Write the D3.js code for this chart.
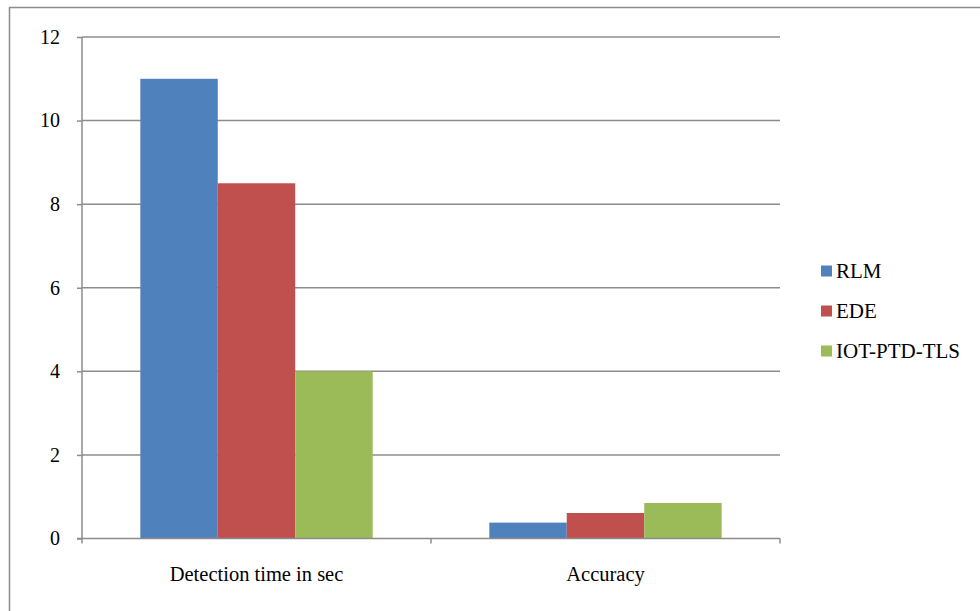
<!DOCTYPE html>
<html>
<head>
<meta charset="utf-8">
<script src="https://cdn.jsdelivr.net/npm/d3@7"></script>
<style>
  html, body { margin: 0; padding: 0; background: #fff; }
  svg { display: block; }
</style>
</head>
<body>
<script>
// Chart data
const categories = ["Detection time in sec", "Accuracy"];
const seriesNames = ["RLM", "EDE", "IOT-PTD-TLS"];
const seriesColors = ["#4f81bd", "#c0504d", "#9bbb59"];
const rlmValues = [11, 0.38];
const edeValues = [8.5, 0.61];
const iotValues = [4, 0.85];
const yTicks = [0, 2, 4, 6, 8, 10, 12];

const seriesValues = [rlmValues, edeValues, iotValues];
const FONT = '"Liberation Serif"';

const W = 980, H = 611;
const margin = { left: 82, right: 200, top: 37, bottom: 72.5 };
const plotW = W - margin.left - margin.right;   // 698
const plotH = H - margin.top - margin.bottom;

const svg = d3.select("body").append("svg")
  .attr("width", W).attr("height", H);

// Outer frame
svg.append("rect")
  .attr("x", 9.5).attr("y", 7.5)
  .attr("width", W).attr("height", H)
  .attr("fill", "none").attr("stroke", "#8c8c8c").attr("stroke-width", 1.5);

const g = svg.append("g").attr("transform", `translate(${margin.left},${margin.top})`);

const y = d3.scaleLinear().domain([0, 12]).range([plotH, 0]);
const x0 = d3.scaleBand().domain(categories).range([0, plotW]).paddingInner(0).paddingOuter(0);
const x1 = d3.scaleBand().domain(seriesNames).range([0, x0.bandwidth()]).paddingInner(0).paddingOuter(0.753);

// Horizontal gridlines
g.append("g").selectAll("line").data(yTicks.filter(d => d > 0)).join("line")
  .attr("x1", 0).attr("x2", plotW)
  .attr("y1", d => y(d)).attr("y2", d => y(d))
  .attr("stroke", "#8c8c8c").attr("stroke-width", 1.5);

// Bars
const groups = g.append("g").selectAll("g").data(categories).join("g")
  .attr("transform", d => `translate(${x0(d)},0)`);
groups.selectAll("rect")
  .data((c, ci) => seriesNames.map((s, si) => ({ s, si, v: seriesValues[si][ci] })))
  .join("rect")
  .attr("x", d => x1(d.s))
  .attr("width", x1.bandwidth())
  .attr("y", d => y(d.v))
  .attr("height", d => plotH - y(d.v))
  .attr("fill", d => seriesColors[d.si]);

// Y axis
const yAxis = g.append("g").call(
  d3.axisLeft(y).tickValues(yTicks).tickSize(5).tickPadding(17).tickFormat(d3.format("d"))
);
yAxis.attr("font-family", null);
yAxis.select(".domain").attr("stroke", "#8c8c8c").attr("stroke-width", 1.5)
  .attr("d", `M0,0V${plotH}`);
yAxis.selectAll(".tick line").attr("stroke", "#8c8c8c").attr("stroke-width", 1.5);
yAxis.selectAll(".tick text")
  .style("font-family", FONT).style("font-size", "20px").attr("fill", "#000");

// X axis
const xAxis = g.append("g").attr("transform", `translate(0,${plotH})`).call(
  d3.axisBottom(x0).tickSize(0).tickPadding(28)
);
xAxis.attr("font-family", null);
xAxis.select(".domain").attr("stroke", "#8c8c8c").attr("stroke-width", 1.5)
  .attr("d", `M-5,0H${plotW}`);
xAxis.selectAll(".tick text")
  .style("font-family", FONT).style("font-size", "20.5px").attr("fill", "#000");
// Category boundary tick marks
g.append("g").selectAll("line").data([0, plotW / 2, plotW]).join("line")
  .attr("x1", d => d).attr("x2", d => d)
  .attr("y1", plotH).attr("y2", plotH + 5)
  .attr("stroke", "#8c8c8c").attr("stroke-width", 1.5);

// Legend
const legend = svg.append("g").attr("transform", "translate(821,271)");
const items = legend.selectAll("g").data(seriesNames).join("g")
  .attr("transform", (d, i) => `translate(0,${i * 40})`);
items.append("rect")
  .attr("x", 0).attr("y", -5.5).attr("width", 11).attr("height", 11)
  .attr("fill", (d, i) => seriesColors[i]);
items.append("text")
  .attr("x", 15).attr("y", 0).attr("dy", "0.35em")
  .style("font-family", FONT).style("font-size", "21px")
  .attr("fill", "#000").text(d => d);
</script>
</body>
</html>
